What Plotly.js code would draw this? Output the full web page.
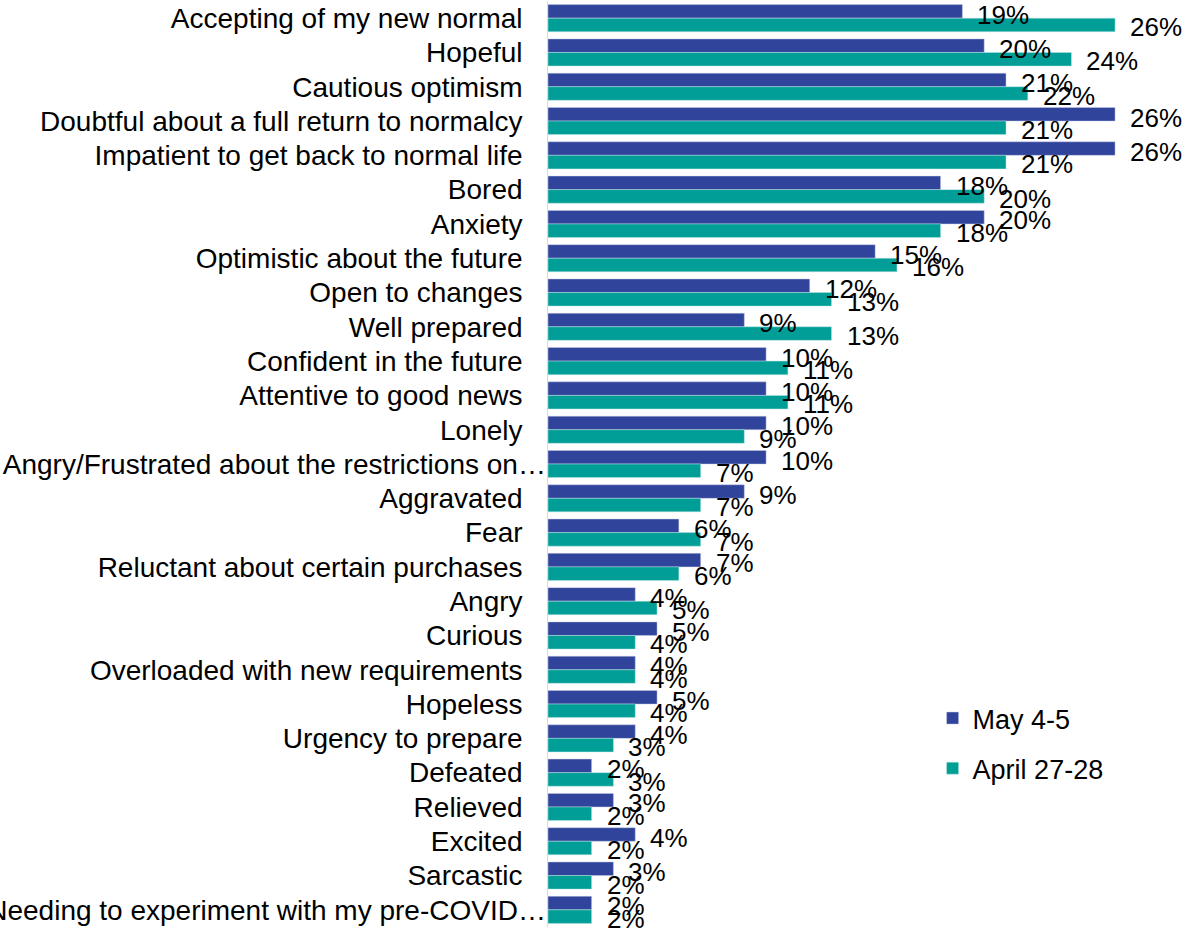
<!DOCTYPE html>
<html>
<head>
<meta charset="utf-8">
<script src="https://cdn.plot.ly/plotly-3.0.1.min.js"></script>
<style>html,body{margin:0;padding:0;background:#fff;}#chart{width:1189px;height:928px;}</style>
</head>
<body>
<div id="chart"></div>
<script>
var categories = [
  "Accepting of my new normal",
  "Hopeful",
  "Cautious optimism",
  "Doubtful about a full return to normalcy",
  "Impatient to get back to normal life",
  "Bored",
  "Anxiety",
  "Optimistic about the future",
  "Open to changes",
  "Well prepared",
  "Confident in the future",
  "Attentive to good news",
  "Lonely",
  "Angry/Frustrated about the restrictions on…",
  "Aggravated",
  "Fear",
  "Reluctant about certain purchases",
  "Angry",
  "Curious",
  "Overloaded with new requirements",
  "Hopeless",
  "Urgency to prepare",
  "Defeated",
  "Relieved",
  "Excited",
  "Sarcastic",
  "Needing to experiment with my pre-COVID…"
];
var may45 =   [19, 20, 21, 26, 26, 18, 20, 15, 12, 9, 10, 10, 10, 10, 9, 6, 7, 4, 5, 4, 5, 4, 2, 3, 4, 3, 2];
var april2728 = [26, 24, 22, 21, 21, 20, 18, 16, 13, 13, 11, 11, 9, 7, 7, 7, 6, 5, 4, 4, 4, 3, 3, 2, 2, 2, 2];
var seriesNames = ["May 4-5", "April 27-28"];

var FONT = "Liberation Sans, Arial, sans-serif";
var colMay = "#30449B";
var colApr = "#009E97";

// truncated labels let their ellipsis hang past the common right edge
var tickText = categories.map(function (c) {
  return /…$/.test(c) ? c : c + "\u00a0\u00a0\u00a0";
});

var traces = [
  {type: "bar", orientation: "h", name: seriesNames[0], y: categories, x: may45,
   marker: {color: colMay, line: {color: "rgba(200,205,230,0.8)", width: 0.6}},
   legendgroup: "a", hoverinfo: "skip"},
  {type: "bar", orientation: "h", name: seriesNames[1], y: categories, x: april2728,
   marker: {color: colApr, line: {color: "rgba(190,230,228,0.8)", width: 0.6}},
   legendgroup: "b", hoverinfo: "skip"}
];

var annotations = [];
categories.forEach(function (c, i) {
  annotations.push({x: may45[i], y: c, xref: "x", yref: "y", text: may45[i] + "%",
    showarrow: false, xanchor: "left", yanchor: "middle", xshift: 13, yshift: 3.5,
    font: {family: FONT, size: 26, color: "#000"}});
  annotations.push({x: april2728[i], y: c, xref: "x", yref: "y", text: april2728[i] + "%",
    showarrow: false, xanchor: "left", yanchor: "middle", xshift: 13, yshift: -9,
    font: {family: FONT, size: 26, color: "#000"}});
});

var layout = {
  width: 1189, height: 928,
  margin: {l: 548, r: 0, t: 1, b: 1, pad: 0, autoexpand: false},
  paper_bgcolor: "#fff", plot_bgcolor: "#fff",
  barmode: "group", bargap: 0.21, bargroupgap: 0,
  font: {family: FONT, color: "#000"},
  xaxis: {range: [0, 29.39], autorange: false, visible: false, fixedrange: true},
  yaxis: {type: "category", range: [26.5, -0.5], autorange: false, automargin: false,
          showline: true, linecolor: "#d9d9d9", linewidth: 1.5,
          tickmode: "array", tickvals: categories, ticktext: tickText,
          ticks: "", showgrid: false, zeroline: false, ticklabelstandoff: -5,
          tickfont: {family: FONT, size: 28, color: "#000"}, fixedrange: true},
  showlegend: true,
  legend: {x: 0.6, y: 0.2516, xanchor: "left", yanchor: "top", traceorder: "grouped", tracegroupgap: 12,
           font: {family: FONT, size: 27, color: "#000"}, bgcolor: "rgba(0,0,0,0)"},
  annotations: annotations
};

Plotly.newPlot("chart", traces, layout, {displayModeBar: false, staticPlot: true});
</script>
</body>
</html>
